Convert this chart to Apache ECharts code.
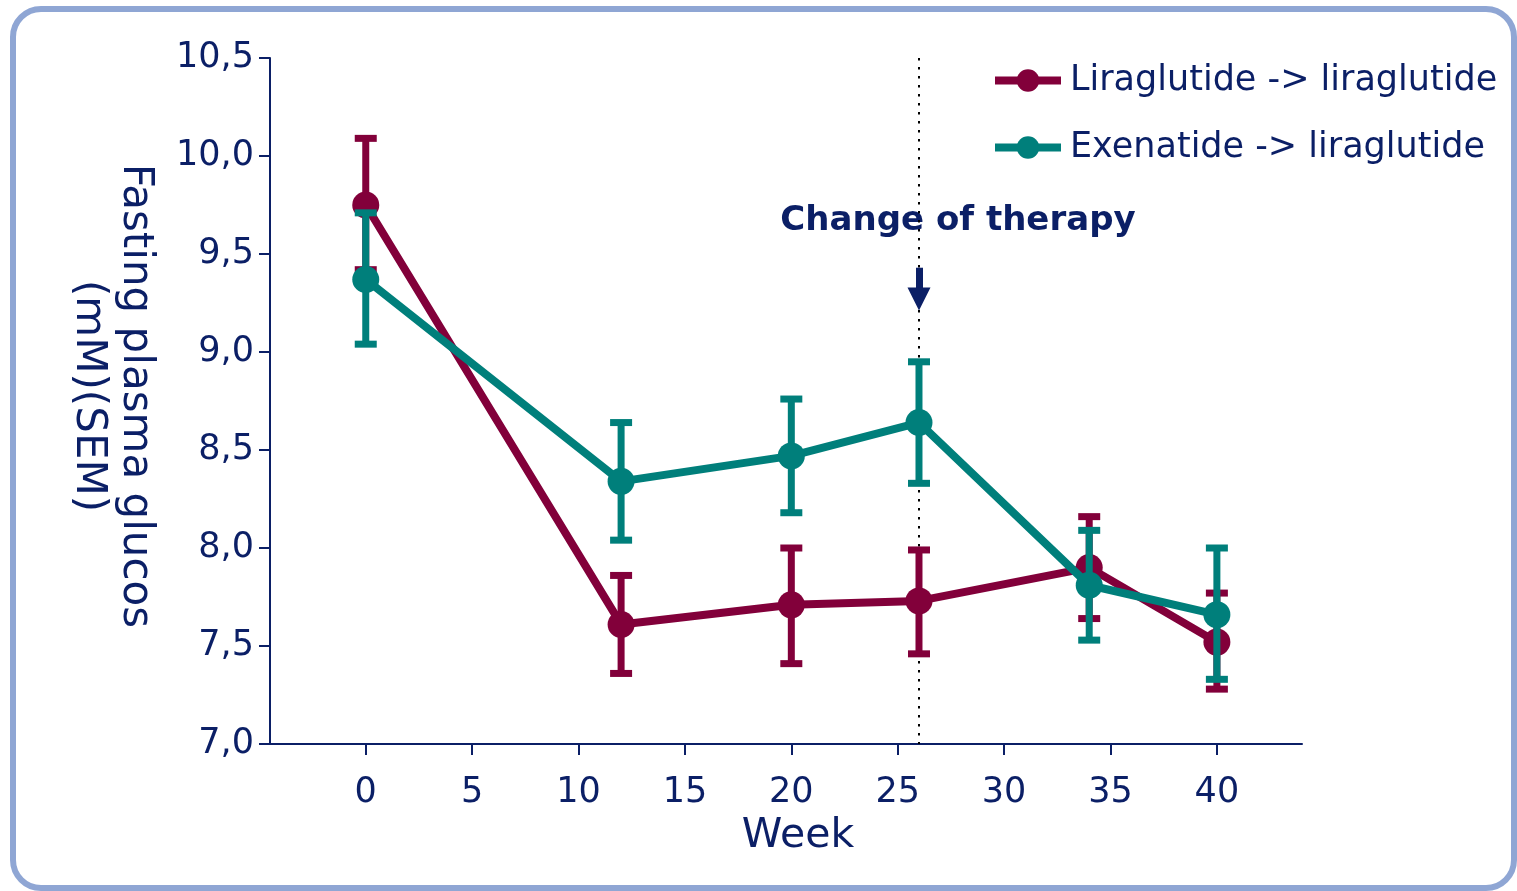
<!DOCTYPE html>
<html>
<head>
<meta charset="utf-8">
<script src="https://cdn.jsdelivr.net/npm/echarts@6/dist/echarts.min.js"></script>
<style>
html,body{margin:0;padding:0;background:#fff;}
#c{width:1517px;height:891px;}
</style>
</head>
<body>
<div id="c"></div>
<script>
// ---- data ----
const weeks = [0, 12, 20, 26, 34, 40];
const liraMean = [9.75, 7.61, 7.71, 7.73, 7.90, 7.52];
const liraLow  = [9.42, 7.36, 7.41, 7.46, 7.64, 7.28];
const liraHigh = [10.09, 7.86, 8.00, 7.99, 8.16, 7.77];
const exenMean = [9.37, 8.34, 8.47, 8.64, 7.81, 7.66];
const exenLow  = [9.04, 8.04, 8.18, 8.33, 7.53, 7.33];
const exenHigh = [9.71, 8.64, 8.76, 8.95, 8.09, 8.00];
const xTicks = [0, 5, 10, 15, 20, 25, 30, 35, 40];
const changeWeek = 26;
const arrowFrom = 9.43, arrowTo = 9.27;
const seriesNames = ['Liraglutide -> liraglutide', 'Exenatide -> liraglutide'];

const NAVY = '#0b1f66';
const MAROON = '#82003a';
const TEAL = '#007f7b';
const FONT = 'DejaVu Sans';

function errItem(color) {
  return function (params, api) {
    const x = api.value(0), lo = api.value(1), hi = api.value(2);
    const a = api.coord([x, lo]), b = api.coord([x, hi]);
    const hw = 11;
    const st = { stroke: color, lineWidth: 7 };
    return {
      type: 'group',
      children: [
        { type: 'line', shape: { x1: a[0], y1: a[1], x2: b[0], y2: b[1] }, style: st },
        { type: 'line', shape: { x1: a[0] - hw, y1: a[1], x2: a[0] + hw, y2: a[1] }, style: st },
        { type: 'line', shape: { x1: b[0] - hw, y1: b[1], x2: b[0] + hw, y2: b[1] }, style: st }
      ]
    };
  };
}

const chart = echarts.init(document.getElementById('c'), null, { renderer: 'canvas' });
chart.setOption({
  animation: false,
  backgroundColor: '#fff',
  grid: { left: 270, right: 215, top: 58, bottom: 147 },
  legend: {
    data: seriesNames,
    orient: 'vertical',
    left: 986,
    top: 58,
    itemWidth: 66,
    itemHeight: 28,
    itemGap: 32,
    lineStyle: { width: 8 },
    textStyle: { color: NAVY, fontSize: 35, fontFamily: FONT, padding: [0, 0, 0, 4] }
  },
  xAxis: {
    type: 'value',
    min: -4.5,
    max: 44,
    name: 'Week',
    nameLocation: 'middle',
    nameGap: 72,
    nameTextStyle: { color: NAVY, fontSize: 41, fontFamily: FONT, padding: [0, 0, 0, 24] },
    axisLine: { show: true, onZero: false, lineStyle: { color: NAVY, width: 2 } },
    axisTick: { show: true, length: 11, customValues: xTicks, lineStyle: { color: NAVY, width: 2 } },
    axisLabel: { customValues: xTicks, color: NAVY, fontSize: 35, fontFamily: FONT, margin: 31 },
    splitLine: { show: false }
  },
  yAxis: {
    type: 'value',
    min: 7,
    max: 10.5,
    interval: 0.5,
    axisLine: { show: true, onZero: false, lineStyle: { color: NAVY, width: 2 } },
    axisTick: { show: true, length: 11, lineStyle: { color: NAVY, width: 2 } },
    axisLabel: {
      color: NAVY, fontSize: 35, fontFamily: FONT, margin: 16,
      formatter: v => v.toFixed(1).replace('.', ',')
    },
    splitLine: { show: false }
  },
  graphic: [
    {
      type: 'rect', z: -10, silent: true,
      shape: { x: 13, y: 9, width: 1501, height: 879, r: 28 },
      style: { fill: 'none', stroke: '#8fa6d4', lineWidth: 6 }
    },
    {
      type: 'text', x: 111, y: 396, rotation: -Math.PI / 2,
      style: {
        text: 'Fasting plasma glucos\n(mM)(SEM)',
        fill: NAVY, font: '42px "DejaVu Sans"', lineHeight: 47,
        textAlign: 'center', textVerticalAlign: 'middle'
      }
    },
    {
      type: 'text', x: 958, y: 221,
      style: {
        text: 'Change of therapy',
        fill: NAVY, font: 'bold 34px "DejaVu Sans"',
        textAlign: 'center', textVerticalAlign: 'middle'
      }
    }
  ],
  series: [
    {
      type: 'custom', name: 'liraErr', z: 2,
      renderItem: errItem(MAROON),
      encode: { x: 0, y: [1, 2] },
      data: weeks.map((w, i) => [w, liraLow[i], liraHigh[i]]),
      silent: true
    },
    {
      type: 'line', name: seriesNames[0], z: 3,
      data: weeks.map((w, i) => [w, liraMean[i]]),
      symbol: 'circle', symbolSize: 27,
      lineStyle: { color: MAROON, width: 8 },
      itemStyle: { color: MAROON },
      markLine: {
        silent: true, z: 1,
        label: { show: false },
        data: [
          [
            { coord: [changeWeek, 10.5], symbol: 'none' },
            { coord: [changeWeek, 7], symbol: 'none' }
          ]
        ],
        lineStyle: { color: '#000', type: [2.5, 6.5], width: 2 }
      }
    },
    {
      type: 'custom', name: 'exenErr', z: 4,
      renderItem: errItem(TEAL),
      encode: { x: 0, y: [1, 2] },
      data: weeks.map((w, i) => [w, exenLow[i], exenHigh[i]]),
      silent: true
    },
    {
      type: 'line', name: seriesNames[1], z: 5,
      data: weeks.map((w, i) => [w, exenMean[i]]),
      symbol: 'circle', symbolSize: 27,
      lineStyle: { color: TEAL, width: 8 },
      itemStyle: { color: TEAL },
      markLine: {
        silent: true,
        label: { show: false },
        symbol: ['none', 'triangle'],
        symbolSize: [23, 23],
        data: [
          [
            { coord: [changeWeek, arrowFrom] },
            { coord: [changeWeek, arrowTo] }
          ]
        ],
        lineStyle: { color: NAVY, type: 'solid', width: 7 }
      }
    }
  ]
});
</script>
</body>
</html>
